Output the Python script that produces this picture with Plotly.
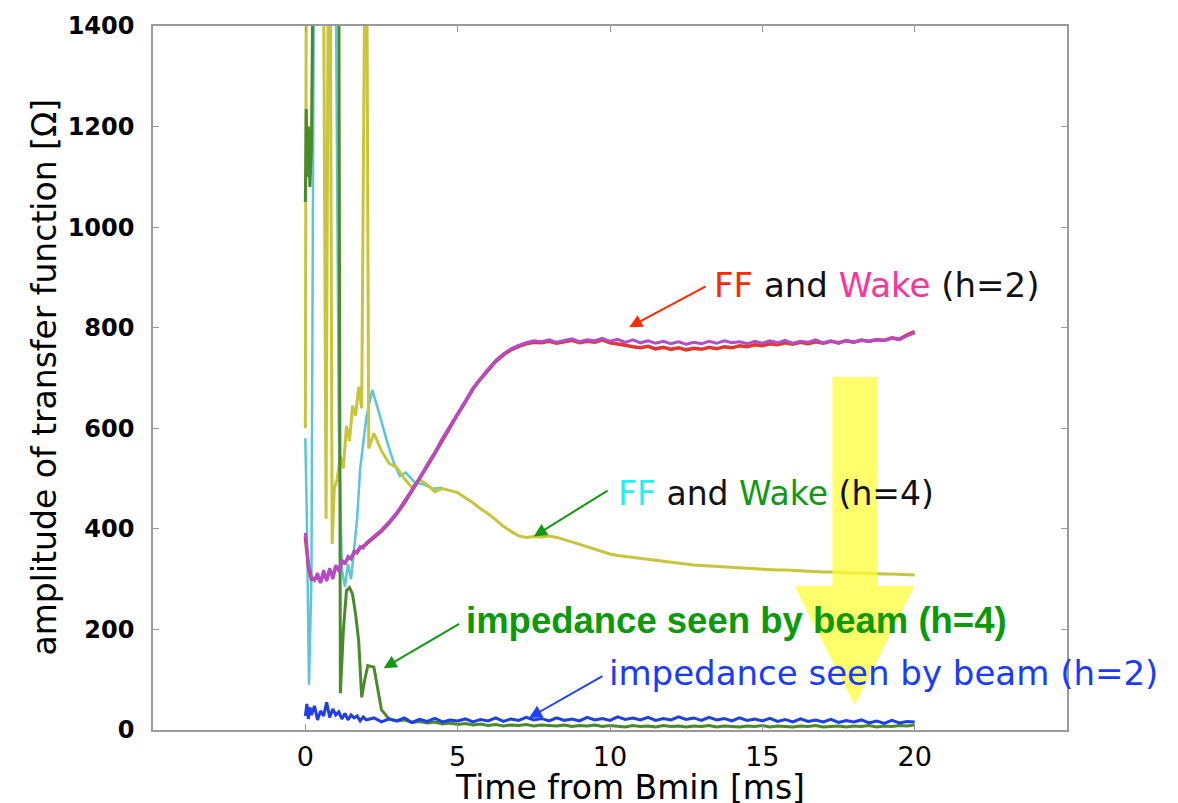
import plotly.graph_objects as go

# ---------------- data ----------------
# shared time grid for the smooth part of the measurement (ms)
T_TAIL = [2.25, 2.5, 2.75, 3.0, 3.25, 3.5, 3.75, 4.0, 4.25, 4.5, 4.75, 5.0,
          5.25, 5.5, 5.75, 6.0, 6.25, 6.5, 6.75, 7.0, 7.25, 7.5, 7.75, 8.0,
          8.25, 8.5, 8.75, 9.0, 9.25, 9.5, 9.75, 10.0, 10.25, 10.5, 10.75, 11.0,
          11.25, 11.5, 11.75, 12.0, 12.25, 12.5, 12.75, 13.0, 13.25, 13.5, 13.75, 14.0,
          14.25, 14.5, 14.75, 15.0, 15.25, 15.5, 15.75, 16.0, 16.25, 16.5, 16.75, 17.0,
          17.25, 17.5, 17.75, 18.0, 18.25, 18.5, 18.75, 19.0, 19.25, 19.5, 19.75, 20.0]

T_EARLY_H2 = [0.0, 0.1, 0.2, 0.3, 0.4, 0.5, 0.6, 0.7, 0.8, 0.9, 1.0,
              1.1, 1.2, 1.3, 1.4, 1.5, 1.6, 1.7, 1.8, 1.9, 2.0]

# h=2 Wake (magenta)
WAKE_H2_EARLY = [392, 330, 305, 298, 312, 292, 318, 296, 322, 300, 328,
                 315, 338, 330, 345, 340, 356, 352, 365, 362, 372]
WAKE_H2_TAIL = [385, 398, 414, 432, 455, 478, 500, 528, 552, 580, 604, 630,
                654, 680, 700, 718, 735, 748, 758, 765, 770, 774, 772, 776,
                771, 775, 778, 772, 776, 774, 779, 773, 777, 771, 776, 770,
                774, 769, 773, 768, 772, 767, 771, 768, 773, 769, 774, 770,
                772, 768, 773, 769, 774, 770, 775, 769, 773, 771, 776, 770,
                774, 769, 775, 771, 776, 772, 777, 774, 779, 776, 784, 790]

# h=2 FF (red)
FF_H2_EARLY = [385, 325, 300, 300, 305, 295, 312, 300, 318, 305, 325,
               318, 335, 332, 342, 342, 352, 355, 362, 365, 370]
FF_H2_TAIL = [383, 396, 412, 430, 452, 476, 498, 525, 550, 577, 602, 628,
              652, 678, 698, 716, 733, 746, 756, 763, 768, 771, 770, 773,
              769, 772, 775, 770, 773, 771, 776, 770, 768, 765, 762, 760,
              763, 758, 761, 757, 760, 756, 759, 757, 761, 758, 762, 760,
              764, 762, 766, 764, 768, 766, 770, 767, 771, 768, 772, 769,
              773, 770, 774, 771, 775, 773, 776, 775, 780, 777, 786, 792]

# h=4 Wake (olive yellow)
T_WAKE_H4_EARLY = [0.0, 0.03, 0.6, 0.68, 0.75, 0.82, 0.88, 0.95, 1.05, 1.15, 1.25,
                   1.35, 1.45, 1.55, 1.65, 1.75, 1.85, 1.95, 2.02, 2.08]
WAKE_H4_EARLY = [600, 1500, 1500, 420, 1500, 1500, 370, 480, 500, 545, 520,
                 605, 575, 645, 625, 682, 640, 1500, 1500, 560]
WAKE_H4_TAIL = [590, 555, 530, 522, 500, 482, 498, 488, 474, 480, 476, 472,
                462, 452, 440, 430, 418, 405, 395, 386, 383, 385, 384, 386,
                383, 379, 374, 369, 364, 359, 354, 350, 347, 345, 343, 341,
                339, 337, 335, 333, 331, 330, 328, 327, 326, 325, 324, 323,
                322, 321, 321, 320, 319, 318, 318, 317, 316, 316, 315, 314,
                314, 313, 313, 312, 312, 311, 311, 310, 310, 309, 309, 308]

# h=4 FF (cyan)
T_FF_H4 = [0.0, 0.05, 0.12, 0.2, 0.28, 0.9, 1.0, 1.1, 1.2, 1.3, 1.4, 1.5,
           1.6, 1.7, 1.8, 1.9, 2.0, 2.1, 2.2, 2.35, 2.5, 2.7, 2.9, 3.1,
           3.3, 3.6, 3.9, 4.2, 4.5]
FF_H4 = [580, 420, 90, 300, 1500, 1500, 1500, 600, 320, 285, 330, 300,
         355, 420, 520, 575, 620, 650, 676, 645, 612, 570, 532, 505,
         512, 492, 488, 480, 482]

# impedance seen by beam, h=4 (dark green)
T_BEAM_H4_EARLY = [0.0, 0.03, 0.06, 0.1, 0.15, 0.2, 0.25, 1.1, 1.15, 1.25, 1.35,
                   1.45, 1.55, 1.65, 1.75, 1.85, 1.95, 2.05]
BEAM_H4_EARLY = [1050, 1235, 1100, 1200, 1080, 1160, 1500, 1500, 73, 200, 277,
                 283, 270, 230, 178, 65, 100, 128]
BEAM_H4_TAIL = [125, 40, 22, 18, 20, 15, 17, 14, 16, 12, 14, 11,
                13, 10, 12, 9, 11, 8, 10, 9, 11, 8, 10, 9,
                8, 10, 7, 9, 8, 10, 7, 9, 8, 6, 9, 7,
                8, 6, 9, 7, 8, 6, 8, 7, 9, 6, 8, 7,
                6, 8, 7, 9, 6, 8, 7, 6, 8, 7, 9, 6,
                7, 8, 6, 8, 7, 9, 6, 8, 7, 9, 8, 10]

# impedance seen by beam, h=2 (blue)
T_BEAM_H2_EARLY = [0.0, 0.05, 0.1, 0.15, 0.2, 0.3, 0.4, 0.5, 0.6, 0.7, 0.8, 0.9,
                   1.0, 1.1, 1.2, 1.3, 1.4, 1.5, 1.6, 1.7, 1.8, 1.9, 2.0]
BEAM_H2_EARLY = [28, 52, 22, 45, 30, 48, 20, 38, 28, 55, 25, 42,
                 30, 36, 22, 33, 20, 30, 24, 28, 18, 26, 20]
BEAM_H2_TAIL = [24, 16, 22, 18, 24, 15, 21, 17, 23, 16, 20, 18,
                22, 16, 21, 18, 24, 17, 22, 19, 25, 20, 23, 18,
                24, 19, 22, 18, 25, 20, 23, 19, 26, 21, 24, 20,
                25, 19, 23, 20, 26, 21, 24, 19, 25, 20, 23, 18,
                24, 19, 22, 18, 23, 17, 21, 16, 22, 17, 20, 16,
                21, 15, 19, 16, 20, 14, 18, 13, 19, 14, 17, 16]

X_TICKS = [0, 5, 10, 15, 20]
Y_TICKS = [0, 200, 400, 600, 800, 1000, 1200, 1400]

# ---------------- figure ----------------
fig = go.Figure()

def add_line(x, y, color, width):
    fig.add_trace(go.Scatter(x=x, y=y, mode="lines", showlegend=False,
                             line=dict(color=color, width=width), hoverinfo="skip"))

add_line(T_FF_H4, FF_H4, "#5cc6d6", 2.5)
add_line(T_WAKE_H4_EARLY + T_TAIL, WAKE_H4_EARLY + WAKE_H4_TAIL, "#c6c53c", 3)
add_line(T_BEAM_H4_EARLY + T_TAIL, BEAM_H4_EARLY + BEAM_H4_TAIL, "#4a8a2a", 3)
add_line(T_BEAM_H2_EARLY + T_TAIL, BEAM_H2_EARLY + BEAM_H2_TAIL, "#1f3fe6", 3)
add_line(T_EARLY_H2 + T_TAIL, FF_H2_EARLY + FF_H2_TAIL, "#e0382a", 3.5)
add_line(T_EARLY_H2 + T_TAIL, WAKE_H2_EARLY + WAKE_H2_TAIL, "#b34ccc", 3)

# big yellow arrow (decoration)
fig.add_shape(type="path",
              path="M 17.30,702 L 18.78,702 L 18.78,287 L 20.0,287 L 18.03,49 L 16.05,287 L 17.30,287 Z",
              xref="x", yref="y", fillcolor="#ffff38", opacity=0.74,
              line=dict(width=0), layer="above")

BLACK_FONT = "DejaVu Sans"

# text labels
fig.add_annotation(x=13.36, y=884, xref="x", yref="y", xanchor="left", yanchor="middle",
                   showarrow=False,
                   text='<span style="color:#ff2a00">FF</span> and '
                        '<span style="color:#ff3399">Wake</span> (h=2)',
                   font=dict(family=BLACK_FONT, size=34, color="#111111"))
fig.add_annotation(x=10.2, y=470, xref="x", yref="y", xanchor="left", yanchor="middle",
                   showarrow=False,
                   text='<span style="color:#1ef2f2">FF</span> and '
                        '<span style="color:#119a11">Wake</span> (h=4)',
                   font=dict(family=BLACK_FONT, size=33, color="#111111"))
fig.add_annotation(x=5.2, y=217, xref="x", yref="y", xanchor="left", yanchor="middle",
                   showarrow=False, text="<b>impedance seen by beam (h=4)</b>",
                   font=dict(family="Liberation Sans", size=36.5, color="#0a9a0a"))
fig.add_annotation(x=9.9, y=113, xref="x", yref="y", xanchor="left", yanchor="middle",
                   showarrow=False, text="impedance seen by beam (h=2)",
                   font=dict(family=BLACK_FONT, size=34, color="#1a3aff"))

# pointer arrows
def pointer(x, y, ax, ay, color):
    fig.add_annotation(x=x, y=y, ax=ax, ay=ay, xref="x", yref="y", axref="x", ayref="y",
                       text="", showarrow=True, arrowhead=2, arrowsize=1.3,
                       arrowwidth=2, arrowcolor=color)

pointer(10.63, 801, 13.19, 884, "#ff2a00")
pointer(7.5, 385, 9.97, 478, "#119a11")
pointer(2.57, 123, 5.1, 213, "#119a11")
pointer(7.34, 24, 9.8, 109, "#2040ff")

# axis titles
fig.add_annotation(x=-0.119, y=0.501, xref="paper", yref="paper", showarrow=False,
                   textangle=-90, xanchor="center", yanchor="middle",
                   text="amplitude of transfer function [Ω]",
                   font=dict(family=BLACK_FONT, size=33, color="#000000"))
fig.add_annotation(x=0.522, y=-0.081, xref="paper", yref="paper", showarrow=False,
                   xanchor="center", yanchor="middle",
                   text="Time from Bmin [ms]",
                   font=dict(family=BLACK_FONT, size=33, color="#000000"))

fig.update_xaxes(range=[-5, 25], tickvals=X_TICKS, ticktext=[str(v) for v in X_TICKS],
                 showgrid=False, zeroline=False, showline=True, linecolor="#9a9a9a",
                 linewidth=1.5, mirror="ticks", ticks="inside", ticklen=6,
                 tickcolor="#9a9a9a", ticklabelstandoff=2,
                 tickfont=dict(family=BLACK_FONT, size=27, color="#000000"))
fig.update_yaxes(range=[0, 1400], tickvals=Y_TICKS, ticktext=[str(v) for v in Y_TICKS],
                 showgrid=False, zeroline=False, showline=True, linecolor="#9a9a9a",
                 linewidth=1.5, mirror="ticks", ticks="inside", ticklen=6,
                 tickcolor="#9a9a9a", ticklabelstandoff=12,
                 tickfont=dict(family="DejaVu Sans", size=24, color="#000000", weight="bold"))

fig.update_layout(width=1178, height=803, margin=dict(l=153, r=111, t=22, b=73),
                  plot_bgcolor="white", paper_bgcolor="white", showlegend=False)

fig.write_html("out.html")
